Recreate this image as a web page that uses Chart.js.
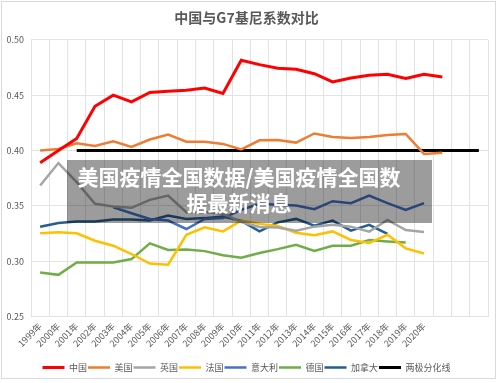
<!DOCTYPE html>
<html>
<head>
<meta charset="utf-8">
<script src="https://cdn.jsdelivr.net/npm/chart.js@4.4.0/dist/chart.umd.min.js"></script>
<style>
  html, body { margin: 0; padding: 0; background: #ffffff; }
  #wrap { position: relative; width: 500px; height: 383px; overflow: hidden; background: #fff; }
  #frame { position: absolute; left: 1px; top: 1px; width: 495px; height: 378px; border: 1px solid #d9d9d9; box-sizing: border-box; pointer-events: none; }
  #overlay { position: absolute; left: 67px; top: 160px; width: 365px; height: 63px; background: rgba(0,0,0,0.39); }
  #overlayText { position: absolute; left: 67px; top: 163px; width: 344px; text-align: center; color: #fff;
    font-family: "Noto Sans CJK SC", sans-serif; font-weight: bold; font-size: 21px; line-height: 26px; white-space: nowrap; }
</style>
</head>
<body>
<div id="wrap">
  <canvas id="c" width="500" height="383"></canvas>
  <div id="overlay"></div>
  <div id="overlayText">美国疫情全国数据/美国疫情全国数<br>据最新消息</div>
  <div id="frame"></div>
</div>
<script>
const categories = ['1999年','2000年','2001年','2002年','2003年','2004年','2005年','2006年','2007年','2008年','2009年','2010年','2011年','2012年','2013年','2014年','2015年','2016年','2017年','2018年','2019年','2020年','','',''];
const yTicks = [0.25, 0.30, 0.35, 0.40, 0.45, 0.50];

const china   = [0.389, 0.400, 0.411, 0.440, 0.450, 0.444, 0.4525, 0.4535, 0.4545, 0.4565, 0.4515, 0.4815, 0.4776, 0.4743, 0.4734, 0.4694, 0.462, 0.4655, 0.468, 0.4689, 0.465, 0.4689, 0.4664];
const usa     = [0.400, 0.4014, 0.4066, 0.4041, 0.4084, 0.4032, 0.410, 0.4145, 0.408, 0.408, 0.406, 0.401, 0.4093, 0.4096, 0.4072, 0.4154, 0.4123, 0.4114, 0.4123, 0.414, 0.415, 0.397, 0.398];
const uk      = [0.3685, 0.3887, 0.3715, 0.352, 0.3495, 0.3483, 0.3555, 0.3594, 0.3443, 0.3445, 0.343, 0.3355, 0.331, 0.3305, 0.3277, 0.3313, 0.333, 0.3313, 0.3268, 0.3374, 0.3283, 0.3265];
const france  = [0.3253, 0.3262, 0.3253, 0.3186, 0.3141, 0.3066, 0.298, 0.2969, 0.324, 0.3307, 0.327, 0.3368, 0.3338, 0.3318, 0.3258, 0.3235, 0.327, 0.3193, 0.3165, 0.324, 0.3117, 0.3071];
const italy   = [null, null, null, null, 0.3488, 0.3434, 0.3383, 0.3368, 0.3292, 0.3383, 0.339, 0.3465, 0.352, 0.351, 0.3503, 0.347, 0.3543, 0.3525, 0.3594, 0.3525, 0.3465, 0.3525];
const germany = [0.2899, 0.2878, 0.299, 0.299, 0.299, 0.302, 0.3162, 0.3102, 0.3107, 0.3092, 0.3055, 0.3032, 0.3075, 0.311, 0.315, 0.3094, 0.314, 0.314, 0.3193, 0.318, 0.317];
const canada  = [0.3313, 0.3346, 0.336, 0.336, 0.3377, 0.3377, 0.3368, 0.3413, 0.3383, 0.339, 0.3405, 0.3365, 0.327, 0.3352, 0.3383, 0.3322, 0.3368, 0.3277, 0.333, 0.3247];
const polarLine = [null, null, 0.40, 0.40, 0.40, 0.40, 0.40, 0.40, 0.40, 0.40, 0.40, 0.40, 0.40, 0.40, 0.40, 0.40, 0.40, 0.40, 0.40, 0.40, 0.40, 0.40, 0.40, 0.40, 0.40];

const seriesNames = ['中国','美国','英国','法国','意大利','德国','加拿大','两极分化线'];
const seriesData = [china, usa, uk, france, italy, germany, canada, polarLine];
const seriesColors = ['#FF0000','#ED7D31','#A5A5A5','#FFC000','#4472C4','#70AD47','#255E91','#000000'];
const seriesWidths = [3, 2.5, 2.5, 2.5, 2.5, 2.5, 2.5, 3];

const FONT = '"Noto Sans CJK SC", "Noto Sans", sans-serif';
const TXT = '#595959';
const GRID = '#e3e3e3';

const datasets = seriesNames.map((n, i) => ({
  label: n,
  data: seriesData[i],
  borderColor: seriesColors[i],
  backgroundColor: seriesColors[i],
  borderWidth: seriesWidths[i],
  pointRadius: 0,
  pointHoverRadius: 0,
  tension: 0,
  spanGaps: false,
  fill: false
}));

new Chart(document.getElementById('c'), {
  type: 'line',
  data: { labels: categories, datasets },
  options: {
    responsive: false,
    devicePixelRatio: 1,
    animation: false,
    layout: { padding: { top: 0, left: 5, right: 12, bottom: 1 } },
    plugins: {
      title: {
        display: true,
        text: '中国与G7基尼系数对比',
        color: TXT,
        font: { family: FONT, size: 14, weight: 'bold' },
        padding: { top: 9, bottom: 14 }
      },
      legend: {
        position: 'bottom',
        labels: {
          usePointStyle: true,
          pointStyle: 'line',
          pointStyleWidth: 22,
          color: TXT,
          font: { family: FONT, size: 9 },
          padding: 1
        }
      },
      tooltip: { enabled: false }
    },
    scales: {
      x: {
        offset: true,
        grid: { color: GRID, drawTicks: false, offset: true },
        border: { color: GRID },
        ticks: {
          autoSkip: false, minRotation: 45, maxRotation: 45,
          color: TXT, font: { family: FONT, size: 9 }, padding: 4
        },
        afterFit: (s) => { s.height = 45.3; }
      },
      y: {
        min: 0.25, max: 0.50,
        grid: { color: GRID, drawTicks: false },
        border: { color: GRID },
        afterBuildTicks: (s) => { s.ticks = yTicks.map(v => ({ value: v })); },
        ticks: {
          color: TXT, font: { family: FONT, size: 9 }, padding: 7,
          callback: (v) => Number(v).toFixed(2)
        },
        afterFit: (s) => { s.width = 26; }
      }
    }
  }
});
</script>
</body>
</html>
